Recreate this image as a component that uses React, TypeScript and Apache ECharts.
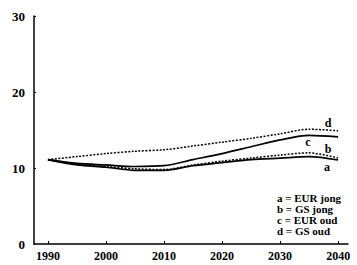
import React, { useEffect, useRef } from "react";
import * as echarts from "echarts";

const years = [1990, 1995, 2000, 2005, 2010, 2015, 2020, 2025, 2030, 2035, 2040];
const seriesA = [11.1, 10.4, 10.1, 9.7, 9.7, 10.3, 10.7, 11.1, 11.3, 11.5, 11.05];
const seriesB = [11.1, 10.5, 10.2, 9.9, 9.8, 10.4, 10.9, 11.3, 11.7, 12.0, 11.3];
const seriesC = [11.1, 10.6, 10.4, 10.2, 10.3, 11.1, 11.9, 12.8, 13.7, 14.3, 14.1];
const seriesD = [11.1, 11.5, 11.9, 12.2, 12.4, 12.9, 13.4, 13.9, 14.5, 15.1, 14.9];
const xTicks = [1990, 2000, 2010, 2020, 2030, 2040];
const legendLines = ["a = EUR jong", "b = GS jong", "c = EUR oud", "d = GS oud"];

const FONT = "'Liberation Serif', 'DejaVu Serif', serif";

export default function App() {
  const ref = useRef<HTMLDivElement>(null);
  useEffect(() => {
    if (!ref.current) return;
    const chart = echarts.init(ref.current, null, { renderer: "svg" });
    const pair = (vals: number[]) => years.map((y, i) => [y, vals[i]]);
    const mk = (name: string, vals: number[], type: string) => ({
      name,
      type: "line",
      data: pair(vals),
      smooth: 0.3,
      showSymbol: false,
      symbol: "none",
      lineStyle: { color: "#000", width: type === "solid" ? 1.7 : 1.5, type: type === "solid" ? "solid" : [2, 1.5] },
    });
    const letter = (t: string, x: number, y: number) => ({
      type: "text",
      x,
      y,
      style: { text: t, font: `bold 12px ${FONT}`, fill: "#000", textAlign: "center", textVerticalAlign: "middle" },
    });
    chart.setOption({
      animation: false,
      backgroundColor: "#fff",
      grid: { left: 34, top: 16, right: 9, bottom: 21, containLabel: false },
      xAxis: {
        type: "value",
        min: 1987.6,
        max: 2041.7,
        axisLine: { lineStyle: { color: "#000", width: 1.5 } },
        axisTick: { show: true, inside: true, length: 3, customValues: xTicks, lineStyle: { color: "#000" } },
        axisLabel: {
          customValues: xTicks,
          formatter: (v: number) => String(v),
          color: "#000",
          fontFamily: FONT,
          fontWeight: "bold",
          fontSize: 12,
          margin: 6,
        },
        splitLine: { show: false },
      },
      yAxis: {
        type: "value",
        min: 0,
        max: 30,
        interval: 10,
        axisLine: { show: true, lineStyle: { color: "#000", width: 1.5 } },
        axisTick: { show: true, inside: true, length: 2, lineStyle: { color: "#000" } },
        axisLabel: { color: "#000", fontFamily: FONT, fontWeight: "bold", fontSize: 13, margin: 9 },
        splitLine: { show: false },
      },
      series: [
        mk("a", seriesA, "solid"),
        mk("b", seriesB, "dotted"),
        mk("c", seriesC, "solid"),
        mk("d", seriesD, "dotted"),
      ],
      graphic: [
        letter("d", 328, 123),
        letter("c", 308, 142),
        letter("b", 328, 149),
        letter("a", 327, 167),
        ...legendLines.map((t, i) => ({
          type: "text",
          x: 277,
          y: 192 + i * 11.2,
          style: {
            text: t,
            font: `bold 11px ${FONT}`,
            lineHeight: 11,
            fill: "#000",
            textAlign: "left",
            textVerticalAlign: "top",
          },
        })),
      ],
    });
    return () => chart.dispose();
  }, []);
  return <div ref={ref} style={{ width: 357, height: 265, position: "absolute", left: 0, top: 0 }} />;
}
